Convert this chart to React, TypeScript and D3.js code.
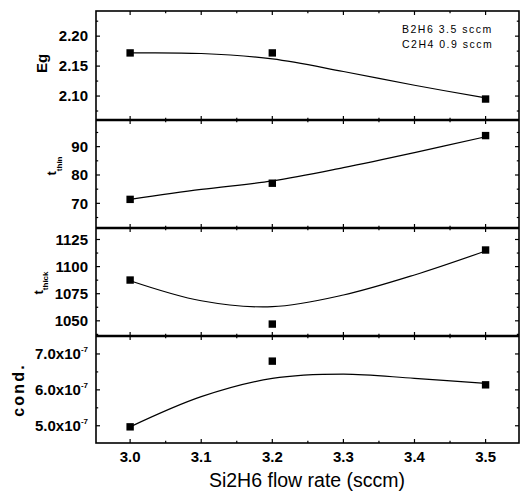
import React from "react";
import * as d3 from "d3";

// ---- data ----
const xValues = [3.0, 3.2, 3.5];
const egValues = [2.172, 2.172, 2.095];
const tThinValues = [71.4, 77.1, 93.9];
const tThickValues = [1087.6, 1047, 1115.3];
const condValues = [4.97, 6.8, 6.14]; // x 1e-7

// smoothed fit curves
const fitX = [3.0, 3.1, 3.2, 3.3, 3.4, 3.5];
const egFit = [2.172, 2.171, 2.162, 2.141, 2.118, 2.097];
const tThinFit = [71.4, 74.9, 77.9, 82.6, 87.9, 93.5];
const tThickFit = [1087, 1068.5, 1063, 1073.8, 1092.3, 1114.4];
const condFit = [4.97, 5.81, 6.32, 6.44, 6.32, 6.18];

const xTicks = [3.0, 3.1, 3.2, 3.3, 3.4, 3.5];
const egTicks = [2.1, 2.15, 2.2];
const tThinTicks = [70, 80, 90];
const tThickTicks = [1050, 1075, 1100, 1125];
const condTicks = [5, 6, 7];

const annotationLines = ["B2H6 3.5 sccm", "C2H4 0.9 sccm"];
const xTitle = "Si2H6 flow rate (sccm)";

const FONT = "'Liberation Sans', Arial, Helvetica, sans-serif";

const left = 96;
const right = 519;

type Panel = {
  key: string;
  top: number;
  bottom: number;
  domain: [number, number];
  ticks: number[];
  minorStep: number;
  values: number[];
  fit: number[];
  fmt: (v: number) => React.ReactNode;
};

const panels: Panel[] = [
  {
    key: "eg",
    top: 11,
    bottom: 120,
    domain: [2.06, 2.242],
    ticks: egTicks,
    minorStep: 0.025,
    values: egValues,
    fit: egFit,
    fmt: (v) => d3.format(".2f")(v),
  },
  {
    key: "thin",
    top: 120,
    bottom: 228,
    domain: [61.3, 99.4],
    ticks: tThinTicks,
    minorStep: 5,
    values: tThinValues,
    fit: tThinFit,
    fmt: (v) => String(v),
  },
  {
    key: "thick",
    top: 228,
    bottom: 336,
    domain: [1036, 1135.6],
    ticks: tThickTicks,
    minorStep: 12.5,
    values: tThickValues,
    fit: tThickFit,
    fmt: (v) => String(v),
  },
  {
    key: "cond",
    top: 336,
    bottom: 443,
    domain: [4.52, 7.5],
    ticks: condTicks,
    minorStep: 0.5,
    values: condValues,
    fit: condFit,
    fmt: (v) => (
      <>
        {d3.format(".1f")(v) + "x10"}
        <tspan fontSize={8} dy={-7}>
          -7
        </tspan>
      </>
    ),
  },
];

const x = d3.scaleLinear().domain([2.952, 3.547]).range([left, right]);

function minorTicks(domain: [number, number], step: number) {
  const out: number[] = [];
  const start = Math.ceil(domain[0] / step - 1e-9) * step;
  for (let v = start; v <= domain[1] + 1e-9; v += step) out.push(+v.toFixed(6));
  return out;
}

export default function App() {
  const xMinor = minorTicks(x.domain() as [number, number], 0.05);
  return (
    <svg
      width={521}
      height={493}
      style={{ position: "absolute", left: 0, top: 0, background: "#fff" }}
      fontFamily={FONT}
    >
      <rect width={521} height={493} fill="#fff" />
      {panels.map((p) => {
        const y = d3.scaleLinear().domain(p.domain).range([p.bottom, p.top]);
        const line = d3
          .line<number>()
          .x((_, i) => x(fitX[i]))
          .y((d) => y(d))
          .curve(d3.curveCatmullRom.alpha(0.5));
        const yMinor = minorTicks(p.domain, p.minorStep);
        return (
          <g key={p.key}>
            {yMinor.map((v) => {
              const major = p.ticks.some((t) => Math.abs(t - v) < 1e-6);
              const len = major ? 4 : 2.2;
              const yy = y(v);
              if (yy < p.top + 1 || yy > p.bottom - 1) return null;
              return (
                <g key={"yt" + v}>
                  <line x1={left} x2={left + len} y1={yy} y2={yy} stroke="#000" strokeWidth={1.2} />
                  <line x1={right} x2={right - len} y1={yy} y2={yy} stroke="#000" strokeWidth={1.2} />
                </g>
              );
            })}
            {xMinor.map((v) => {
              const major = xTicks.some((t) => Math.abs(t - v) < 1e-6);
              const len = major ? 4 : 2.2;
              const xx = x(v);
              return (
                <g key={"xt" + v}>
                  <line x1={xx} x2={xx} y1={p.top} y2={p.top + len} stroke="#000" strokeWidth={1.2} />
                  <line x1={xx} x2={xx} y1={p.bottom} y2={p.bottom - len} stroke="#000" strokeWidth={1.2} />
                </g>
              );
            })}
            {p.ticks.map((v) => (
              <text
                key={"yl" + v}
                x={88}
                y={y(v) + 5.3}
                textAnchor="end"
                fontSize={15}
                fontWeight="bold"
              >
                {p.fmt(v)}
              </text>
            ))}
            <path d={line(p.fit) || ""} fill="none" stroke="#000" strokeWidth={1.2} />
            {p.values.map((v, i) => (
              <rect
                key={"m" + i}
                x={x(xValues[i]) - 3.7}
                y={y(v) - 3.7}
                width={7.4}
                height={7.4}
                fill="#000"
              />
            ))}
          </g>
        );
      })}

      <rect
        x={left}
        y={panels[0].top}
        width={right - left}
        height={panels[3].bottom - panels[0].top}
        fill="none"
        stroke="#000"
        strokeWidth={1.6}
      />
      {panels.slice(1).map((p) => (
        <line key={"sep" + p.key} x1={left} x2={right} y1={p.top} y2={p.top} stroke="#000" strokeWidth={2.6} />
      ))}

      {xTicks.map((v) => (
        <text key={"xl" + v} x={x(v)} y={462} textAnchor="middle" fontSize={15} fontWeight="bold">
          {d3.format(".1f")(v)}
        </text>
      ))}
      <text x={307} y={487} textAnchor="middle" fontSize={19.5}>
        {xTitle}
      </text>

      <text transform="translate(47,63.5) rotate(-90)" textAnchor="middle" fontSize={15} fontWeight="bold">
        Eg
      </text>
      <text transform="translate(56,166) rotate(-90)" textAnchor="middle" fontSize={13} fontWeight="bold">
        t
        <tspan fontSize={8} dy={6}>
          thin
        </tspan>
      </text>
      <text transform="translate(43,283) rotate(-90)" textAnchor="middle" fontSize={13} fontWeight="bold">
        t
        <tspan fontSize={8} dy={5}>
          thick
        </tspan>
      </text>
      <text
        transform="translate(24,390) rotate(-90)"
        textAnchor="middle"
        fontSize={16}
        fontWeight="bold"
        letterSpacing={2.2}
      >
        cond.
      </text>

      {annotationLines.map((s, i) => (
        <text key={s} x={402} y={33 + i * 14.5} fontSize={10.5} letterSpacing={1.5}>
          {s}
        </text>
      ))}
    </svg>
  );
}
